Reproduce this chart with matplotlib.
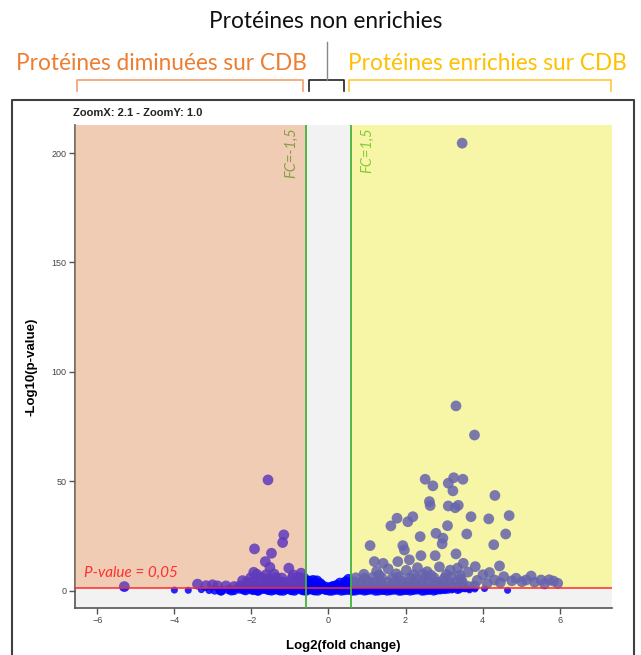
import matplotlib
matplotlib.use("Agg")
import matplotlib.pyplot as plt
from matplotlib.lines import Line2D
from matplotlib.patches import Rectangle
import numpy as np

# significant proteins standing out of the cloud (log2 FC, -log10 p)
hi_fc = [3.47, 3.31, 3.79, 2.51, 2.71, 3.11, 3.25, 3.49, 3.23, 4.32, 2.62, 2.64,
         3.11, 3.29, 3.37, 1.78, 1.62, 2.06, 2.19, 3.70, 4.16, 4.69, 3.09, 2.38,
         2.79, 2.97, 2.95, 3.59, 4.60, 4.29, 1.08, 1.93, 1.97, 2.40, 2.77, 3.31,
         1.19, 1.42, 1.80, 2.10, 3.50, 3.81, 4.44, 4.18,
         -1.57, -1.16, -1.19, -1.92, -1.48, -1.64, -1.52, -1.94, -1.03, -0.71]
hi_p = [204.5, 84.5, 71.2, 51.0, 48.0, 49.2, 51.7, 51.0, 45.7, 43.6, 40.8, 39.0,
        38.8, 38.0, 39.1, 33.2, 29.7, 31.6, 33.9, 33.9, 32.9, 34.4, 29.8, 24.8,
        26.3, 24.1, 21.5, 26.0, 26.0, 21.1, 20.7, 20.7, 18.7, 16.1, 16.1, 16.9,
        13.4, 12.6, 13.4, 14.2, 12.6, 11.1, 11.4, 8.4,
        50.7, 25.6, 22.1, 19.2, 17.2, 13.4, 10.8, 8.5, 10.4, 8.1]

# right-hand cluster just above the threshold
mid_fc = [1.25, 1.55, 2.02, 2.31, 2.56, 2.88, 3.16, 3.35, 3.62, 4.01, 4.55, 4.87,
          5.13, 5.26, 5.52, 5.73, 5.95, 5.35, 5.02, 4.76, 4.31, 3.86, 4.12, 4.46,
          5.61, 5.84,
          0.66, 0.81, 0.97, 1.12, 1.24, 1.41, 1.57, 1.69, 1.86, 2.01, 2.13, 2.32,
          2.44, 2.61, 2.77, 2.92, 3.04, 3.22, 3.36, 3.51, 3.64, 3.79,
          0.68, 0.86, 1.02, 1.19, 1.36, 1.54, 1.72, 1.88, 2.07, 2.24, 2.42, 2.59,
          2.81, 2.96, 3.13, 3.31, 3.48,
          0.71, 0.94, 1.16, 1.38, 1.66, 1.84, 2.11, 2.29, 2.52, 2.74, 3.01, 3.19,
          3.44, 0.92, 1.31, 1.76, 2.21, 2.46, 2.66, 3.06, 3.41]
mid_p = [9.0, 10.1, 9.4, 10.6, 8.8, 11.0, 9.5, 10.4, 8.6, 7.4, 6.5, 5.8,
         5.0, 6.8, 5.0, 5.1, 3.5, 4.0, 4.2, 4.6, 5.0, 4.8, 3.5, 3.8,
         3.2, 4.5,
         2.1, 1.9, 2.3, 2.0, 1.8, 2.2, 2.0, 1.9, 2.4, 2.0, 1.8, 2.2,
         2.1, 1.9, 2.3, 2.0, 1.8, 2.1, 2.2, 1.9, 2.0, 2.3,
         4.1, 3.8, 4.3, 3.9, 4.2, 4.0, 3.7, 4.4, 4.1, 3.8, 4.2, 3.9,
         4.0, 4.3, 3.8, 4.1, 3.9,
         6.0, 5.8, 6.3, 6.1, 5.9, 6.4, 6.0, 5.7, 6.2, 6.0, 5.8, 6.3,
         5.6, 7.6, 7.3, 7.8, 7.4, 7.7, 7.2, 7.5, 7.1]

# left-hand cluster (decreased proteins) just above the threshold
neg_fc = [-2.23, -2.66, -3.40, -3.18, -3.01, -2.88, -5.30,
          -2.45, -2.31, -2.14, -2.01, -1.86, -1.69, -1.56, -1.41, -1.24, -1.11,
          -0.96, -0.79, -0.66,
          -2.12, -1.96, -1.79, -1.61, -1.46, -1.29, -1.16, -1.01, -0.84, -0.69,
          -2.02, -1.76, -1.54, -1.36, -1.21, -0.94, -0.76, -0.63,
          -1.86, -1.62, -1.41, -0.91]
neg_p = [4.7, 2.3, 3.1, 2.4, 2.8, 2.3, 2.0,
         2.0, 2.2, 1.9, 2.1, 2.0, 1.8, 2.2, 2.0, 1.9, 2.1,
         2.0, 2.2, 1.9,
         4.0, 4.2, 3.9, 4.1, 3.8, 4.3, 4.0, 3.9, 4.2, 4.0,
         6.0, 6.2, 5.8, 6.1, 5.9, 6.0, 6.2, 5.7,
         7.6, 7.4, 7.7, 7.3]

# non-enriched proteins between the two FC cut-offs
ctr_fc = [-0.50, -0.45, -0.30, -0.32, -0.18, -0.08, 0.05, 0.12, 0.22, 0.30,
          0.38, 0.45, 0.52, 0.50, -0.55, -0.22, -0.40, 0.15]
ctr_p = [4.5, 2.8, 4.6, 2.2, 2.6, 1.8, 1.6, 2.1, 2.6, 3.6,
         2.4, 4.2, 5.3, 2.8, 3.2, 3.4, 4.8, 1.5]

# non-significant proteins under the p-value line
low_fc = [-3.64, -4.00, -3.30, -3.10, -2.95, -2.80, -2.60, -2.45, -2.30, -2.15,
          -2.00, -1.85, -1.70, -1.55, -1.40, -1.25, -1.10, -0.95, -0.80, -0.65,
          -0.50, -0.35, -0.20, -0.05, 0.10, 0.25, 0.40, 0.55, 0.70, 0.85,
          1.00, 1.15, 1.30, 1.45, 1.60, 1.75, 1.90, 2.05, 2.20, 2.35,
          2.50, 2.65, 2.80, 2.95, 3.10, 3.25, 3.40, 3.55, 3.66, 3.80,
          4.65, 4.05,
          -2.20, -1.95, -1.60, -1.30, -1.00, -0.70, -0.40, -0.10, 0.20, 0.50,
          0.80, 1.10, 1.40, 1.70, 2.00, 2.30, 2.60, 2.90, 3.20,
          -1.82, -1.48, -1.17, -0.88, -0.58, -0.27, 0.03, 0.33, 0.62, 0.93,
          1.22, 1.52, 1.83, 2.12, 2.43, 2.73, -2.52, 3.02, 3.35, -2.78]
low_p = [0.3, 0.4, 0.6, 0.2, 0.5, 0.1, 0.7, 0.3, 0.9, 0.2,
         0.6, 0.1, 0.8, 0.3, 0.5, 0.05, 0.7, 0.2, 0.9, 0.15,
         0.6, 0.1, 0.8, 0.3, 0.05, 0.7, 0.2, 1.0, 0.1, 0.6,
         0.25, 0.9, 0.1, 0.5, 0.2, 0.8, 0.05, 0.6, 0.3, 1.0,
         0.15, 0.7, 0.4, 0.9, 0.3, 0.8, 0.5, 1.0, 0.5, 0.9,
         0.3, 1.1,
         0.5, 0.3, 0.6, 0.4, 0.5, 0.45, 0.35, 0.55, 0.4, 0.35,
         0.45, 0.5, 0.35, 0.45, 0.3, 0.55, 0.35, 0.6, 0.45,
         0.0, 0.05, 0.0, 0.02, 0.0, 0.04, 0.0, 0.03, 0.0, 0.05,
         0.0, 0.02, 0.0, 0.04, 0.0, 0.05, 0.1, 0.15, 0.2, 0.1]

fc_cut = np.log2(1.5)
p_cut = -np.log10(0.05)
xlim = (-6.58, 7.36)
ylim = (-7.8, 212.8)

fc = np.array(low_fc + ctr_fc + neg_fc + mid_fc + hi_fc)
lp = np.array(low_p + ctr_p + neg_p + mid_p + hi_p)
# bigger markers for the proteins above the p-value line
sizes = np.where(lp > p_cut, 60, np.where(np.abs(fc) < 3, 48, 26))

W, H = 641, 655
fig = plt.figure(figsize=(W / 100, H / 100), dpi=100)
ax = fig.add_axes([75 / W, 1 - 608 / H, 537 / W, 483 / H])
ax.set_facecolor("#f2f2f2")

ax.scatter(fc, lp, s=sizes, c="#0000ff", alpha=0.85, linewidths=0, zorder=2)

# translucent zones over the points
ax.add_patch(Rectangle((xlim[0], p_cut), -fc_cut - xlim[0], ylim[1] - p_cut,
                       facecolor="#ef9357", alpha=0.4, lw=0, zorder=3))
ax.add_patch(Rectangle((fc_cut, p_cut), xlim[1] - fc_cut, ylim[1] - p_cut,
                       facecolor="#fffa34", alpha=0.4, lw=0, zorder=3))

ax.axhline(p_cut, color="#ff2a2a", lw=1.1, zorder=4)
ax.axvline(-fc_cut, color="#44b33a", lw=1.3, zorder=4)
ax.axvline(fc_cut, color="#44b33a", lw=1.3, zorder=4)

ax.text(-fc_cut - 0.2, ylim[1] - 1, "FC=-1,5", rotation=90, ha="right", va="top",
        color="#3caa3c", style="italic", fontsize=10.5, family="Lato", zorder=2.5)
ax.text(fc_cut + 0.25, ylim[1] - 1, "FC=1,5", rotation=90, ha="left", va="top",
        color="#3caa3c", style="italic", fontsize=10.5, family="Lato", zorder=2.5)
ax.text(-6.35, 8.2, "P-value = 0,05", color="#ff3030", style="italic",
        fontsize=11, family="Lato", va="center", zorder=5)

ax.set_xlim(*xlim)
ax.set_ylim(*ylim)
ax.set_xticks([-6, -4, -2, 0, 2, 4, 6])
ax.set_yticks([0, 50, 100, 150, 200])
for side in ("top", "right"):
    ax.spines[side].set_visible(False)
for side in ("left", "bottom"):
    ax.spines[side].set_color("#555555")
    ax.spines[side].set_linewidth(1.2)
ax.tick_params(length=4, width=1, color="#555555", labelsize=6.5,
               labelcolor="#444444", pad=2)
for lab in ax.get_xticklabels() + ax.get_yticklabels():
    lab.set_family("Liberation Sans")

ax.set_xlabel("Log2(fold change)", fontsize=9.5, fontweight="bold",
              family="Liberation Sans")
ax.set_ylabel("-Log10(p-value)", fontsize=9.5, fontweight="bold",
              family="Liberation Sans")
ax.xaxis.set_label_coords(0.5, -0.066)
ax.yaxis.set_label_coords(-0.070, 0.5)

fig.text(73 / W, 1 - 113 / H, "ZoomX: 2.1 - ZoomY: 1.0", fontsize=8,
         fontweight="bold", family="Liberation Sans", va="center", color="#222222")

def px_line(xs, ys, color, lw):
    fig.add_artist(Line2D([x / W for x in xs], [1 - y / H for y in ys],
                          color=color, lw=lw, transform=fig.transFigure))

# panel frame
px_line([12, 12, 634, 634], [655, 100, 100, 655], "#404040", 1.5)

# headings and brackets above the panel
fig.text(326 / W, 1 - 21 / H, "Protéines non enrichies", fontsize=16.3,
         family="Lato", ha="center", va="center", color="#111111")
fig.text(161 / W, 1 - 63 / H, "Protéines diminuées sur CDB", fontsize=16.3,
         family="Lato", ha="center", va="center", color="#ed7d31")
fig.text(487 / W, 1 - 63 / H, "Protéines enrichies sur CDB", fontsize=16.3,
         family="Lato", ha="center", va="center", color="#ffc000")
px_line([77, 77, 303, 303], [91, 80, 80, 91], "#f4a070", 1.2)
px_line([309, 309, 344, 344], [91, 80, 80, 91], "#222222", 1.2)
px_line([349, 349, 611, 611], [91, 80, 80, 91], "#ffc83a", 1.2)
px_line([326.5, 326.5], [42, 80], "#888888", 1.0)

fig.savefig("out.png", dpi=100)
